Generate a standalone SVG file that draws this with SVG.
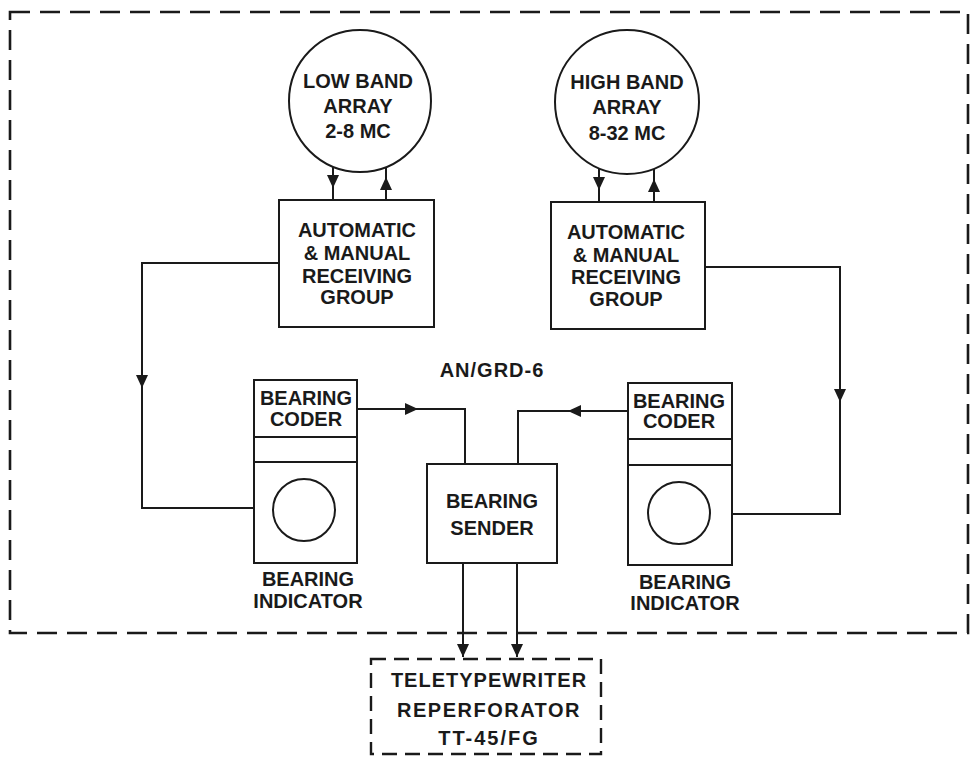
<svg xmlns="http://www.w3.org/2000/svg" width="971" height="757" viewBox="0 0 971 757">
<style>
.s{fill:none;stroke:#1a1a1a;stroke-width:2}
.d{fill:none;stroke:#1a1a1a;stroke-width:2.6;stroke-dasharray:20 10}
.d2{fill:none;stroke:#1a1a1a;stroke-width:2.4;stroke-dasharray:15 8}
.c{stroke:#1a1a1a;stroke-width:2;fill:none}
text{font-family:"Liberation Sans",Arial,sans-serif;font-weight:bold;font-size:20px;fill:#1a1a1a;text-anchor:middle}
</style>
<defs>
<marker id="ah" markerUnits="userSpaceOnUse" markerWidth="14" markerHeight="12" refX="13" refY="6" orient="auto">
<path d="M0,0 L13,6 L0,12 z" fill="#1a1a1a"/>
</marker>
</defs>
<rect x="0" y="0" width="971" height="757" fill="#ffffff"/>
<g id="boundary">
<rect class="d" x="10" y="12" width="958" height="621"/>
<text x="492" y="377" letter-spacing="1">AN/GRD-6</text>
</g>
<g id="lowband">
<circle class="s" cx="360" cy="101" r="71"/>
<text x="358" y="88">LOW BAND</text>
<text x="358" y="113">ARRAY</text>
<text x="358" y="138">2-8 MC</text>
</g>
<g id="highband">
<circle class="s" cx="627" cy="102" r="72"/>
<text x="627" y="89">HIGH BAND</text>
<text x="627" y="114">ARRAY</text>
<text x="627" y="140">8-32 MC</text>
</g>
<g id="rxlow">
<rect class="s" x="279" y="200" width="155" height="127"/>
<text x="357" y="237">AUTOMATIC</text>
<text x="357" y="260">&amp; MANUAL</text>
<text x="357" y="283">RECEIVING</text>
<text x="357" y="304">GROUP</text>
</g>
<g id="rxhigh">
<rect class="s" x="551" y="202" width="154" height="127"/>
<text x="626" y="239">AUTOMATIC</text>
<text x="626" y="262">&amp; MANUAL</text>
<text x="626" y="284">RECEIVING</text>
<text x="626" y="306">GROUP</text>
</g>
<g id="indleft">
<rect class="s" x="254" y="380" width="103" height="183"/>
<line class="s" x1="254" y1="437" x2="357" y2="437"/>
<line class="s" x1="254" y1="462" x2="357" y2="462"/>
<circle class="s" cx="304" cy="510" r="31"/>
<text x="306" y="405">BEARING</text>
<text x="306" y="426">CODER</text>
<text x="308" y="586">BEARING</text>
<text x="308" y="608">INDICATOR</text>
</g>
<g id="indright">
<rect class="s" x="628" y="383" width="104" height="182"/>
<line class="s" x1="628" y1="439" x2="732" y2="439"/>
<line class="s" x1="628" y1="465" x2="732" y2="465"/>
<circle class="s" cx="679" cy="513" r="31"/>
<text x="679" y="408">BEARING</text>
<text x="679" y="428">CODER</text>
<text x="685" y="589">BEARING</text>
<text x="685" y="610">INDICATOR</text>
</g>
<g id="sender">
<rect class="s" x="427" y="464" width="130" height="99"/>
<text x="492" y="508">BEARING</text>
<text x="492" y="535">SENDER</text>
</g>
<g id="teletype">
<rect class="d2" x="371" y="659" width="230" height="95"/>
<text x="489" y="687" letter-spacing="1">TELETYPEWRITER</text>
<text x="489" y="717" letter-spacing="1.5">REPERFORATOR</text>
<text x="489" y="745" letter-spacing="2">TT-45/FG</text>
</g>
<g id="connectors">
<path class="c" d="M333,167 L333,188" marker-end="url(#ah)"/>
<path class="c" d="M333,188 L333,200"/>
<path class="c" d="M386,200 L386,177" marker-end="url(#ah)"/>
<path class="c" d="M386,177 L386,167"/>
<path class="c" d="M599,168 L599,190" marker-end="url(#ah)"/>
<path class="c" d="M599,190 L599,202"/>
<path class="c" d="M654,202 L654,179" marker-end="url(#ah)"/>
<path class="c" d="M654,179 L654,169"/>
<path class="c" d="M279,263 L142,263 L142,388" marker-end="url(#ah)"/>
<path class="c" d="M142,388 L142,508 L254,508"/>
<path class="c" d="M705,267 L840,267 L840,402" marker-end="url(#ah)"/>
<path class="c" d="M840,402 L840,514 L732,514"/>
<path class="c" d="M357,409 L418,409" marker-end="url(#ah)"/>
<path class="c" d="M418,409 L465,409 L465,464"/>
<path class="c" d="M628,411 L568,411" marker-end="url(#ah)"/>
<path class="c" d="M568,411 L518,411 L518,464"/>
<path class="c" d="M463,563 L463,657" marker-end="url(#ah)"/>
<path class="c" d="M517,563 L517,657" marker-end="url(#ah)"/>
</g>
</svg>
